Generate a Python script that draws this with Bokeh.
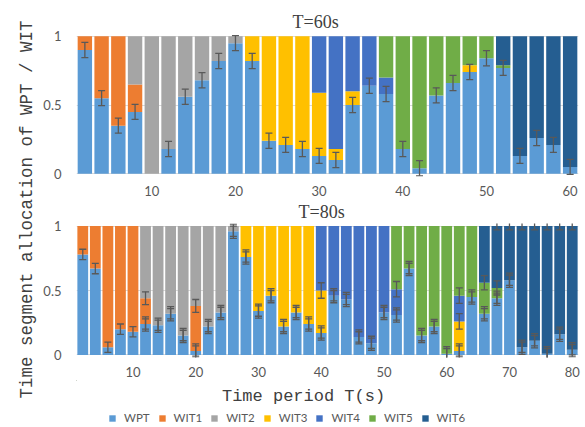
import numpy as np
from bokeh.plotting import figure
from bokeh.models import (ColumnDataSource, Whisker, TeeHead, Range1d, FixedTicker,
                          Label, Legend, LegendItem, Title)
from bokeh.layouts import row, column
from bokeh.embed import file_html
from bokeh.resources import INLINE

SERIES = ["WPT", "WIT1", "WIT2", "WIT3", "WIT4", "WIT5", "WIT6"]
COLORS = ["#5B9BD5", "#ED7D31", "#A5A5A5", "#FFC000", "#4472C4", "#70AD47", "#255E91"]

# ---------------- T = 60 s ----------------
X_60 = list(range(2, 61, 2))
WPT_60 = [0.90, 0.55, 0.35, 0.45, 0.00, 0.18, 0.56, 0.68, 0.82, 0.95,
          0.82, 0.24, 0.21, 0.18, 0.13, 0.10, 0.50, 0.64, 0.58, 0.18,
          0.04, 0.57, 0.66, 0.74, 0.84, 0.77, 0.13, 0.26, 0.21, 0.05]
WIT1_60 = [0.10, 0.45, 0.65, 0.20, 0, 0, 0, 0, 0, 0,
           0, 0, 0, 0, 0, 0, 0, 0, 0, 0,
           0, 0, 0, 0, 0, 0, 0, 0, 0, 0]
WIT2_60 = [0, 0, 0, 0.35, 1.00, 0.82, 0.44, 0.32, 0.18, 0.05,
           0, 0, 0, 0, 0, 0, 0, 0, 0, 0,
           0, 0, 0, 0, 0, 0, 0, 0, 0, 0]
WIT3_60 = [0, 0, 0, 0, 0, 0, 0, 0, 0, 0,
           0.18, 0.76, 0.79, 0.82, 0.46, 0.08, 0.10, 0, 0, 0,
           0, 0, 0, 0.05, 0, 0, 0, 0, 0, 0]
WIT4_60 = [0, 0, 0, 0, 0, 0, 0, 0, 0, 0,
           0, 0, 0, 0, 0.41, 0.82, 0.40, 0.36, 0.12, 0,
           0, 0, 0, 0, 0, 0, 0, 0, 0, 0]
WIT5_60 = [0, 0, 0, 0, 0, 0, 0, 0, 0, 0,
           0, 0, 0, 0, 0, 0, 0, 0, 0.30, 0.82,
           0.96, 0.43, 0.34, 0.21, 0.16, 0.02, 0, 0, 0, 0]
WIT6_60 = [0, 0, 0, 0, 0, 0, 0, 0, 0, 0,
           0, 0, 0, 0, 0, 0, 0, 0, 0, 0,
           0, 0, 0, 0, 0, 0.21, 0.87, 0.74, 0.79, 0.95]
ERR_60 = 0.055

# ---------------- T = 80 s ----------------
X_80 = list(range(2, 81, 2))
WPT_80 = [0.78, 0.67, 0.06, 0.20, 0.18, 0.24, 0.23, 0.32, 0.15, 0.03,
          0.22, 0.33, 0.96, 0.76, 0.34, 0.46, 0.22, 0.33, 0.24, 0.17,
          0.46, 0.43, 0.14, 0.09, 0.33, 0.31, 0.67, 0.15, 0.22, 0.01,
          0.03, 0.45, 0.32, 0.44, 0.58, 0.06, 0.11, 0.01, 0.16, 0.04]
WIT1_80 = [0.22, 0.33, 0.94, 0.80, 0.82, 0.20, 0, 0, 0, 0.35,
           0, 0, 0, 0, 0, 0, 0, 0, 0, 0,
           0, 0, 0, 0, 0, 0, 0, 0, 0, 0,
           0, 0, 0, 0, 0, 0, 0, 0, 0, 0]
WIT2_80 = [0, 0, 0, 0, 0, 0.56, 0.77, 0.68, 0.85, 0.62,
           0.78, 0.67, 0.04, 0, 0, 0, 0, 0, 0, 0,
           0, 0, 0, 0, 0, 0, 0, 0, 0, 0,
           0, 0, 0, 0, 0, 0, 0, 0, 0, 0]
WIT3_80 = [0, 0, 0, 0, 0, 0, 0, 0, 0, 0,
           0, 0, 0, 0.24, 0.66, 0.54, 0.78, 0.67, 0.76, 0.33,
           0, 0, 0, 0, 0, 0, 0, 0, 0, 0,
           0.23, 0, 0, 0, 0, 0, 0, 0, 0, 0]
WIT4_80 = [0, 0, 0, 0, 0, 0, 0, 0, 0, 0,
           0, 0, 0, 0, 0, 0, 0, 0, 0, 0.50,
           0.54, 0.57, 0.86, 0.91, 0.67, 0.20, 0, 0, 0, 0,
           0.20, 0, 0, 0, 0, 0, 0, 0, 0, 0]
WIT5_80 = [0, 0, 0, 0, 0, 0, 0, 0, 0, 0,
           0, 0, 0, 0, 0, 0, 0, 0, 0, 0,
           0, 0, 0, 0, 0, 0.49, 0.33, 0.85, 0.78, 0.99,
           0.54, 0.55, 0.24, 0.08, 0, 0, 0, 0, 0, 0]
WIT6_80 = [0, 0, 0, 0, 0, 0, 0, 0, 0, 0,
           0, 0, 0, 0, 0, 0, 0, 0, 0, 0,
           0, 0, 0, 0, 0, 0, 0, 0, 0, 0,
           0, 0, 0.44, 0.48, 0.42, 0.94, 0.89, 0.99, 0.84, 0.96]
ERR_80_INNER = 0.04
ERR_80_OUTER = 0.055
DOUBLE_FROM_80 = 12
# error bars drawn on top of other segments: series -> bar positions
SEG_ERR_80 = {"WIT1": [12, 20], "WIT3": [40, 62], "WIT4": [52, 62],
              "WIT5": [66, 68], "WIT6": [68, 70, 72, 74, 76, 78, 80]}
SEG_HALF_80 = {"WIT1": 0.05, "WIT3": 0.06, "WIT4": 0.06, "WIT5": 0.055, "WIT6": 0.03}

TICK_FONT = "Lato"
TICK_COLOR = "#595959"
ERR_COLOR = "#595959"


def add_whisker(p, xs, centers, half):
    xs = list(xs)
    centers = np.asarray(centers, dtype=float)
    src = ColumnDataSource(dict(x=xs, upper=list(centers + half), lower=list(centers - half)))
    w = Whisker(source=src, base="x", upper="upper", lower="lower", dimension="height",
                level="overlay", line_color=ERR_COLOR, line_width=1.3,
                upper_head=TeeHead(size=7, line_color=ERR_COLOR, line_width=1.3),
                lower_head=TeeHead(size=7, line_color=ERR_COLOR, line_width=1.3))
    p.add_layout(w)


def make_panel(xs, series_vals, x_end, ticks, width, height, bl, br, bt, bb,
               title, title_offset):
    p = figure(width=width, height=height, x_range=Range1d(1, x_end),
               y_range=Range1d(-0.02, 1.02), output_backend="svg",
               toolbar_location=None, min_border_left=bl, min_border_right=br,
               min_border_top=bt, min_border_bottom=bb)
    p.title = Title(text=title, align="left", offset=title_offset,
                    text_font="Liberation Serif", text_font_size="18px",
                    text_font_style="normal", text_color="#404040", standoff=3)
    p.outline_line_color = None
    p.background_fill_color = "white"
    p.xgrid.visible = False
    p.ygrid.grid_line_color = "#D9D9D9"
    p.ygrid.grid_line_width = 1

    p.xaxis.ticker = FixedTicker(ticks=ticks)
    p.yaxis.ticker = FixedTicker(ticks=[0, 0.5, 1])
    p.yaxis.major_label_overrides = {0: "0", 0.5: "0.5", 1: "1"}
    for ax in (p.xaxis, p.yaxis):
        ax.axis_line_color = None
        ax.major_tick_line_color = None
        ax.minor_tick_line_color = None
        ax.major_label_text_font = TICK_FONT
        ax.major_label_text_font_size = "13px"
        ax.major_label_text_color = TICK_COLOR
    p.xaxis.major_label_standoff = 3
    p.yaxis.major_label_standoff = 9

    data = dict(x=xs)
    for s, v in zip(SERIES, series_vals):
        data[s] = v
    src = ColumnDataSource(data)
    p.vbar_stack(SERIES, x="x", width=1.72, source=src,
                 fill_color=COLORS, line_color=None)
    return p


# ---------- top panel ----------
vals60 = [WPT_60, WIT1_60, WIT2_60, WIT3_60, WIT4_60, WIT5_60, WIT6_60]
p1 = make_panel(X_60, vals60, 61, [10, 20, 30, 40, 50, 60], 545, 198,
                36, 7, 33, 20, "T=60s", 216)
xs1 = [x for x, w in zip(X_60, WPT_60) if w > 0]
cs1 = [w for w in WPT_60 if w > 0]
add_whisker(p1, xs1, cs1, ERR_60)

# ---------- bottom panel ----------
vals80 = [WPT_80, WIT1_80, WIT2_80, WIT3_80, WIT4_80, WIT5_80, WIT6_80]
p2 = make_panel(X_80, vals80, 81, [10, 20, 30, 40, 50, 60, 70, 80], 545, 182,
                34, 5, 23, 23, "T=80s", 222)
add_whisker(p2, X_80, WPT_80, ERR_80_INNER)
xs_d = [x for x in X_80 if x >= DOUBLE_FROM_80]
cs_d = [w for x, w in zip(X_80, WPT_80) if x >= DOUBLE_FROM_80]
add_whisker(p2, xs_d, cs_d, ERR_80_OUTER)
cum80 = np.cumsum(np.array(vals80, dtype=float), axis=0)
for s, xlist in SEG_ERR_80.items():
    k = SERIES.index(s)
    cent = [cum80[k][X_80.index(x)] for x in xlist]
    add_whisker(p2, xlist, cent, SEG_HALF_80[s])

# ---------- y-axis title ----------
lab = figure(width=40, height=427, x_range=Range1d(0, 40), y_range=Range1d(427, 0),
             x_axis_type=None, y_axis_type=None, toolbar_location=None,
             output_backend="svg", min_border=0)
lab.outline_line_color = None
lab.add_layout(Label(x=26, y=209, text="Time segment allocation of WPT / WIT",
                     angle=90, angle_units="deg", text_align="center",
                     text_baseline="middle", text_font="Liberation Mono",
                     text_font_size="17.5px", text_color="#404040"))

# ---------- footer: x title + legend ----------
foot = figure(width=545, height=47, x_range=Range1d(40, 585), y_range=Range1d(427, 380),
              x_axis_type=None, y_axis_type=None, toolbar_location=None,
              output_backend="svg", min_border=0)
foot.outline_line_color = None
foot.add_layout(Label(x=286.5, y=395.5, text="Time period T(s)", text_align="center",
                      text_baseline="middle", text_font="Liberation Mono",
                      text_font_size="17px", text_color="#404040"))
items = []
for s, c in zip(SERIES, COLORS):
    r = foot.vbar(x=[0], top=[0], width=1, fill_color=c, line_color=None)
    items.append(LegendItem(label=s, renderers=[r]))
legend = Legend(items=items, orientation="horizontal", location=(32, 3),
                glyph_width=8, glyph_height=8, label_standoff=8, spacing=8,
                padding=0, margin=0, border_line_color=None,
                background_fill_alpha=0, label_text_font=TICK_FONT,
                label_text_font_size="11.5px", label_text_color=TICK_COLOR,
                label_height=10, label_width=10)
foot.add_layout(legend)

layout = row(lab, column(p1, p2, foot))
open("out.html", "w").write(file_html(layout, INLINE, "chart"))
